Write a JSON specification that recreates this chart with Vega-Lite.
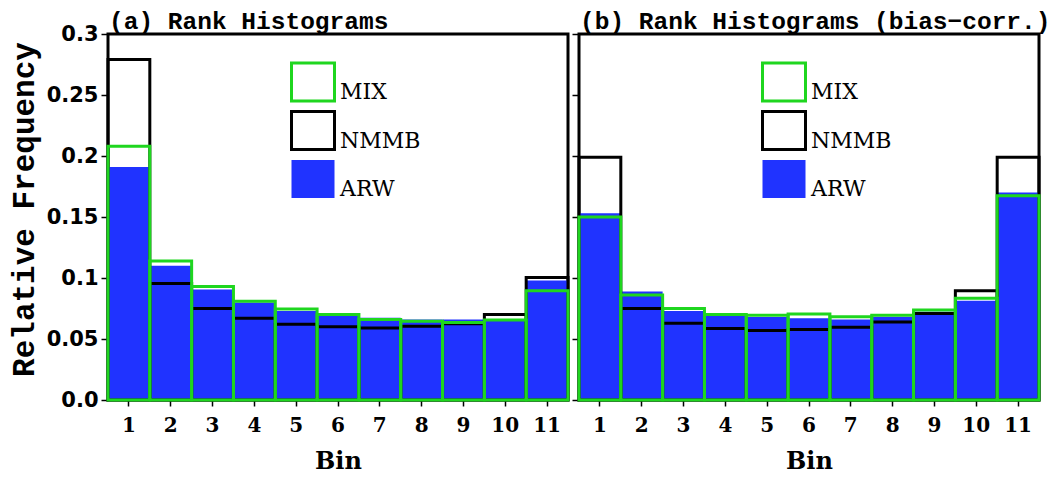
{
  "$schema": "https://vega.github.io/schema/vega-lite/v6.json",
  "background": "white",
  "padding": {"left": 6, "top": 7, "right": 0, "bottom": 0},
  "datasets": {
    "ranks": [
      {"panel": "a", "bin": 1, "model": "ARW", "freq": 0.191},
      {"panel": "a", "bin": 2, "model": "ARW", "freq": 0.110},
      {"panel": "a", "bin": 3, "model": "ARW", "freq": 0.0905},
      {"panel": "a", "bin": 4, "model": "ARW", "freq": 0.080},
      {"panel": "a", "bin": 5, "model": "ARW", "freq": 0.073},
      {"panel": "a", "bin": 6, "model": "ARW", "freq": 0.069},
      {"panel": "a", "bin": 7, "model": "ARW", "freq": 0.0675},
      {"panel": "a", "bin": 8, "model": "ARW", "freq": 0.066},
      {"panel": "a", "bin": 9, "model": "ARW", "freq": 0.066},
      {"panel": "a", "bin": 10, "model": "ARW", "freq": 0.0655},
      {"panel": "a", "bin": 11, "model": "ARW", "freq": 0.098},
      {"panel": "a", "bin": 1, "model": "NMMB", "freq": 0.279},
      {"panel": "a", "bin": 2, "model": "NMMB", "freq": 0.0955},
      {"panel": "a", "bin": 3, "model": "NMMB", "freq": 0.075},
      {"panel": "a", "bin": 4, "model": "NMMB", "freq": 0.067},
      {"panel": "a", "bin": 5, "model": "NMMB", "freq": 0.062},
      {"panel": "a", "bin": 6, "model": "NMMB", "freq": 0.060},
      {"panel": "a", "bin": 7, "model": "NMMB", "freq": 0.059},
      {"panel": "a", "bin": 8, "model": "NMMB", "freq": 0.0605},
      {"panel": "a", "bin": 9, "model": "NMMB", "freq": 0.0625},
      {"panel": "a", "bin": 10, "model": "NMMB", "freq": 0.070},
      {"panel": "a", "bin": 11, "model": "NMMB", "freq": 0.1005},
      {"panel": "a", "bin": 1, "model": "MIX", "freq": 0.208},
      {"panel": "a", "bin": 2, "model": "MIX", "freq": 0.114},
      {"panel": "a", "bin": 3, "model": "MIX", "freq": 0.093},
      {"panel": "a", "bin": 4, "model": "MIX", "freq": 0.081},
      {"panel": "a", "bin": 5, "model": "MIX", "freq": 0.0745},
      {"panel": "a", "bin": 6, "model": "MIX", "freq": 0.070},
      {"panel": "a", "bin": 7, "model": "MIX", "freq": 0.066},
      {"panel": "a", "bin": 8, "model": "MIX", "freq": 0.0645},
      {"panel": "a", "bin": 9, "model": "MIX", "freq": 0.0635},
      {"panel": "a", "bin": 10, "model": "MIX", "freq": 0.0655},
      {"panel": "a", "bin": 11, "model": "MIX", "freq": 0.0895},
      {"panel": "b", "bin": 1, "model": "ARW", "freq": 0.153},
      {"panel": "b", "bin": 2, "model": "ARW", "freq": 0.089},
      {"panel": "b", "bin": 3, "model": "ARW", "freq": 0.073},
      {"panel": "b", "bin": 4, "model": "ARW", "freq": 0.069},
      {"panel": "b", "bin": 5, "model": "ARW", "freq": 0.068},
      {"panel": "b", "bin": 6, "model": "ARW", "freq": 0.067},
      {"panel": "b", "bin": 7, "model": "ARW", "freq": 0.066},
      {"panel": "b", "bin": 8, "model": "ARW", "freq": 0.0683},
      {"panel": "b", "bin": 9, "model": "ARW", "freq": 0.0724},
      {"panel": "b", "bin": 10, "model": "ARW", "freq": 0.0814},
      {"panel": "b", "bin": 11, "model": "ARW", "freq": 0.170},
      {"panel": "b", "bin": 1, "model": "NMMB", "freq": 0.199},
      {"panel": "b", "bin": 2, "model": "NMMB", "freq": 0.075},
      {"panel": "b", "bin": 3, "model": "NMMB", "freq": 0.063},
      {"panel": "b", "bin": 4, "model": "NMMB", "freq": 0.0587},
      {"panel": "b", "bin": 5, "model": "NMMB", "freq": 0.057},
      {"panel": "b", "bin": 6, "model": "NMMB", "freq": 0.0577},
      {"panel": "b", "bin": 7, "model": "NMMB", "freq": 0.0596},
      {"panel": "b", "bin": 8, "model": "NMMB", "freq": 0.064},
      {"panel": "b", "bin": 9, "model": "NMMB", "freq": 0.071},
      {"panel": "b", "bin": 10, "model": "NMMB", "freq": 0.0896},
      {"panel": "b", "bin": 11, "model": "NMMB", "freq": 0.199},
      {"panel": "b", "bin": 1, "model": "MIX", "freq": 0.150},
      {"panel": "b", "bin": 2, "model": "MIX", "freq": 0.086},
      {"panel": "b", "bin": 3, "model": "MIX", "freq": 0.075},
      {"panel": "b", "bin": 4, "model": "MIX", "freq": 0.070},
      {"panel": "b", "bin": 5, "model": "MIX", "freq": 0.0695},
      {"panel": "b", "bin": 6, "model": "MIX", "freq": 0.0705},
      {"panel": "b", "bin": 7, "model": "MIX", "freq": 0.0683},
      {"panel": "b", "bin": 8, "model": "MIX", "freq": 0.0694},
      {"panel": "b", "bin": 9, "model": "MIX", "freq": 0.0738},
      {"panel": "b", "bin": 10, "model": "MIX", "freq": 0.0833},
      {"panel": "b", "bin": 11, "model": "MIX", "freq": 0.1675}
    ]
  },
  "config": {
    "view": {"stroke": "black", "strokeWidth": 3},
    "concat": {"spacing": -2},
    "title": {"font": "Liberation Mono", "fontWeight": "bold", "fontSize": 24.5, "color": "black", "anchor": "start", "frame": "group", "offset": -1, "dx": 1},
    "axisX": {
      "labelAngle": 0, "labelFont": "DejaVu Serif", "labelFontWeight": "bold", "labelFontSize": 20,
      "labelColor": "black", "labelPadding": 9, "tickSize": 6, "tickColor": "black", "tickWidth": 1.5,
      "domain": false, "grid": false, "titleFont": "DejaVu Serif", "titleFontWeight": "bold",
      "titleFontSize": 24, "titleColor": "black", "titlePadding": 14
    },
    "axisY": {
      "labelFont": "DejaVu Sans", "labelFontWeight": "bold", "labelFontSize": 21, "labelColor": "black",
      "labelPadding": 3, "tickSize": 7, "tickColor": "black", "tickWidth": 1.5, "domain": false, "grid": false,
      "titleFont": "Liberation Mono", "titleFontWeight": "bold", "titleFontSize": 31, "titleColor": "black",
      "titlePadding": 6
    },
    "legend": {
      "orient": "none", "legendX": 182, "legendY": 25, "title": null, "padding": 0,
      "symbolType": "M-1,-0.88H1V0.88H-1Z", "symbolSize": 1849, "symbolStrokeWidth": 3,
      "labelFont": "DejaVu Serif", "labelFontSize": 22, "labelColor": "black", "labelBaseline": "top",
      "labelOffset": 4, "rowPadding": -1.5
    }
  },
  "hconcat": [
    {
      "width": 460,
      "height": 366,
      "title": {"text": "(a) Rank Histograms", "dy": 10},
      "data": {"name": "ranks"},
      "transform": [{"filter": "datum.panel === 'a'"}],
      "mark": {"type": "bar", "strokeWidth": 3, "strokeJoin": "miter"},
      "encoding": {
        "x": {"field": "bin", "type": "ordinal", "title": "Bin", "scale": {"paddingInner": 0, "paddingOuter": 0}},
        "y": {
          "field": "freq", "type": "quantitative", "stack": null,
          "scale": {"domain": [0, 0.3], "nice": false},
          "axis": {
            "title": "Relative Frequency",
            "titleY": 175,
            "values": [0, 0.05, 0.1, 0.15, 0.2, 0.25, 0.3],
            "labelExpr": "datum.value === 0 ? '0.0' : format(datum.value, '.2~f')"
          }
        },
        "fill": {
          "field": "model", "type": "nominal",
          "scale": {"domain": ["MIX", "NMMB", "ARW"], "range": ["transparent", "transparent", "#2033ff"]}
        },
        "stroke": {
          "field": "model", "type": "nominal",
          "scale": {"domain": ["MIX", "NMMB", "ARW"], "range": ["#1fd61f", "#000000", "transparent"]}
        }
      }
    },
    {
      "width": 460,
      "height": 366,
      "title": "(b) Rank Histograms (bias−corr.)",
      "data": {"name": "ranks"},
      "transform": [{"filter": "datum.panel === 'b'"}],
      "mark": {"type": "bar", "strokeWidth": 3, "strokeJoin": "miter"},
      "encoding": {
        "x": {"field": "bin", "type": "ordinal", "title": "Bin", "scale": {"paddingInner": 0, "paddingOuter": 0}},
        "y": {
          "field": "freq", "type": "quantitative", "stack": null,
          "scale": {"domain": [0, 0.3], "nice": false},
          "axis": {"title": null, "labels": false, "values": [0, 0.05, 0.1, 0.15, 0.2, 0.25, 0.3]}
        },
        "fill": {
          "field": "model", "type": "nominal",
          "scale": {"domain": ["MIX", "NMMB", "ARW"], "range": ["transparent", "transparent", "#2033ff"]}
        },
        "stroke": {
          "field": "model", "type": "nominal",
          "scale": {"domain": ["MIX", "NMMB", "ARW"], "range": ["#1fd61f", "#000000", "transparent"]}
        }
      }
    }
  ],
  "resolve": {
    "scale": {"fill": "independent", "stroke": "independent"},
    "legend": {"fill": "independent", "stroke": "independent"}
  }
}
